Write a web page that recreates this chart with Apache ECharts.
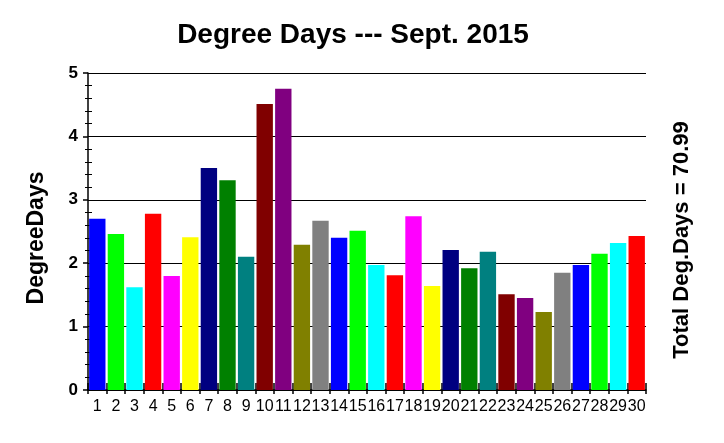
<!DOCTYPE html>
<html><head><meta charset="utf-8">
<script src="https://cdn.jsdelivr.net/npm/echarts@6/dist/echarts.min.js"></script>
<style>html,body{margin:0;padding:0;background:#fff}#c{width:724px;height:443px}</style>
</head><body><div id="c"></div>
<script>
const days = ['1','2','3','4','5','6','7','8','9','10','11','12','13','14','15','16','17','18','19','20','21','22','23','24','25','26','27','28','29','30'];
const degreeDays = [2.70,2.46,1.62,2.78,1.80,2.41,3.50,3.31,2.10,4.51,4.75,2.29,2.67,2.40,2.51,1.97,1.81,2.74,1.64,2.21,1.92,2.18,1.51,1.45,1.23,1.85,1.97,2.15,2.32,2.43];
const palette = ['#0000FF','#00FF00','#00FFFF','#FF0000','#FF00FF','#FFFF00','#000080','#008000','#008080','#800000','#800080','#808000','#808080'];
const titleText = 'Degree Days --- Sept. 2015';
const totalText = 'Total Deg.Days = 70.99';
const yName = 'DegreeDays';

const chart = echarts.init(document.getElementById('c'));
const font = 'Arial, "Liberation Sans", sans-serif';
chart.setOption({
  animation: false,
  title: {show: false},
  grid: {left: 88, right: 78, top: 73, bottom: 53},
  graphic: [
    {type: 'text', x: 353, y: 35, style: {text: titleText, font: 'bold 28px ' + font, fill: '#000', textAlign: 'center', textVerticalAlign: 'middle'}},
    {type: 'text', x: 37, y: 238, rotation: Math.PI/2, style: {text: yName, font: 'bold 23px ' + font, fill: '#000', textAlign: 'center', textVerticalAlign: 'middle'}},
    {type: 'text', x: 682, y: 240, rotation: Math.PI/2, style: {text: totalText, font: 'bold 22px ' + font, fill: '#000', textAlign: 'center', textVerticalAlign: 'middle'}}
  ],
  xAxis: [{
    type: 'category', data: days, boundaryGap: true,
    axisLine: {show: true, lineStyle: {color: '#000', width: 1.5}},
    axisTick: {show: true, length: 4, alignWithLabel: false, lineStyle: {color: '#000', width: 1.5}},
    axisLabel: {color: '#000', fontFamily: font, fontSize: 16, margin: 9, interval: 0},
    splitLine: {show: false}
  }, {
    type: 'category', data: days, boundaryGap: true, position: 'bottom',
    axisLine: {show: false},
    axisTick: {show: true, inside: true, length: 7, lineStyle: {color: '#000', width: 1.5}},
    axisLabel: {show: false}, splitLine: {show: false}
  }],
  yAxis: [{
    type: 'value', min: 0, max: 5, interval: 1,
    axisLine: {show: true, lineStyle: {color: '#000', width: 1.5}},
    axisTick: {show: true, length: 5, lineStyle: {color: '#000', width: 1.5}},
    minorTick: {show: true, splitNumber: 5, length: 3, lineStyle: {color: '#000', width: 1}},
    axisLabel: {color: '#000', fontFamily: font, fontSize: 17, fontWeight: 'bold', margin: 10},
    splitLine: {show: true, lineStyle: {color: '#000', width: 1.2}}
  }, {
    type: 'value', min: 0, max: 5, interval: 1, position: 'left',
    axisLine: {show: false},
    axisTick: {show: false, inside: true},
    minorTick: {show: true, splitNumber: 5, length: 4, lineStyle: {color: '#000', width: 1}},
    axisLabel: {show: false}, splitLine: {show: false}
  }],
  series: [{
    type: 'bar', data: degreeDays.map((v, i) => ({value: v, itemStyle: {color: palette[i % palette.length]}})),
    barCategoryGap: '12%', xAxisIndex: 0, yAxisIndex: 0
  }]
});
</script></body></html>
